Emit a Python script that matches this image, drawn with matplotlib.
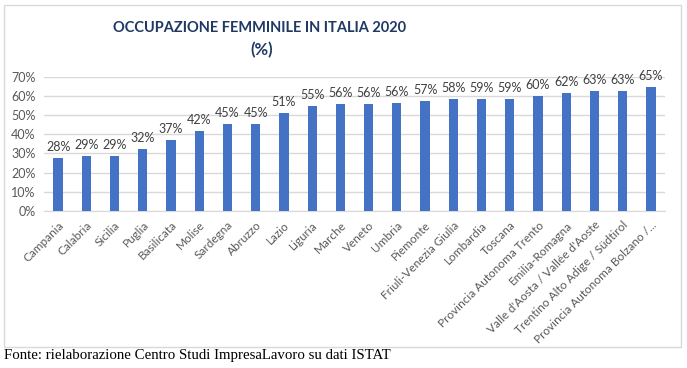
import matplotlib.pyplot as plt
from matplotlib.patches import Rectangle

regions = ["Campania", "Calabria", "Sicilia", "Puglia", "Basilicata", "Molise",
           "Sardegna", "Abruzzo", "Lazio", "Liguria", "Marche", "Veneto",
           "Umbria", "Piemonte", "Friuli-Venezia Giulia", "Lombardia", "Toscana",
           "Provincia Autonoma Trento", "Emilia-Romagna",
           "Valle d'Aosta / Vallée d'Aoste", "Trentino Alto Adige / Südtirol",
           "Provincia Autonoma Bolzano /..."]
values = [27.8, 28.6, 28.6, 32.1, 36.8, 41.9, 45.1, 45.1, 51.3, 54.6, 55.6, 55.6,
          56.1, 57.3, 58.4, 58.6, 58.6, 60.1, 61.6, 62.6, 62.8, 64.8]
yticks = [0, 10, 20, 30, 40, 50, 60, 70]

font = ["Lato", "DejaVu Sans"]
gray = "#595959"

fig = plt.figure(figsize=(6.87, 3.68), dpi=100)
fig.patches.append(Rectangle((4 / 687, 1 - 347 / 368), 677 / 687, 342 / 368,
                             transform=fig.transFigure, fill=False,
                             edgecolor="#D9D9D9", linewidth=1))

ax = fig.add_axes([44 / 687, 1 - 211 / 368, 621 / 687, 134.3 / 368])
x = range(len(values))
ax.bar(x, values, width=0.33, color="#4472C4", zorder=3)
for i, v in enumerate(values):
    ax.text(i, v + 2.6, "{:.0f}%".format(v), ha="center", va="bottom",
            fontsize=9, color="#404040", family=font)

ax.set_xlim(-0.5, len(values) - 0.5)
ax.set_ylim(0, 70)
ax.set_yticks(yticks)
ax.set_yticklabels(["{}%".format(t) for t in yticks], family=font, fontsize=9, color=gray)
ax.set_xticks(list(x))
ax.set_xticklabels(regions, rotation=45, ha="right", rotation_mode="anchor",
                   family=font, fontsize=8.5, color=gray)
ax.grid(axis="y", color="#D9D9D9", linewidth=1, zorder=0)
ax.tick_params(length=0, pad=6)
for s in ["top", "right", "left"]:
    ax.spines[s].set_visible(False)
ax.spines["bottom"].set_color("#D9D9D9")

fig.text(260 / 687, 1 - 28 / 368, "OCCUPAZIONE FEMMINILE IN ITALIA 2020", ha="center",
         va="center", fontsize=10.5, fontweight="bold", color="#1F3864", family=font)
fig.text(262 / 687, 1 - 50 / 368, "(%)", ha="center", va="center", fontsize=12,
         fontweight="bold", color="#1F3864", family=font)

fig.text(4 / 687, 1 - 356 / 368, "Fonte: rielaborazione Centro Studi ImpresaLavoro su dati ISTAT",
         ha="left", va="center", fontsize=10.7, color="black", family="Liberation Serif")

fig.savefig("out.png", dpi=100)
